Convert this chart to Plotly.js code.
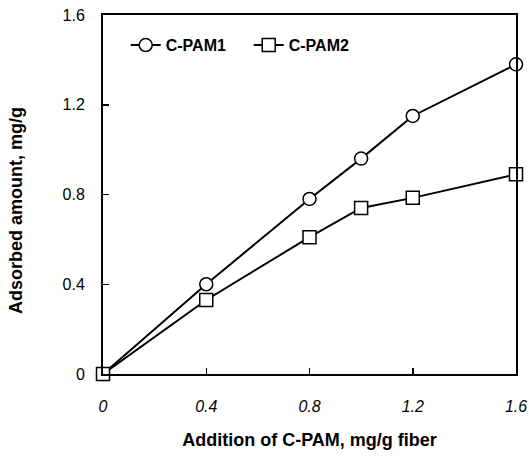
<!DOCTYPE html>
<html><head><meta charset="utf-8">
<script src="https://cdn.plot.ly/plotly-3.0.1.min.js"></script>
<style>html,body{margin:0;padding:0;background:#fff}</style>
</head><body>
<div id="chart" style="width:529px;height:458px"></div>
<script>
const xValues = [0, 0.4, 0.8, 1.0, 1.2, 1.6];
const cpam1 = [0, 0.40, 0.78, 0.96, 1.15, 1.38];
const cpam2 = [0, 0.33, 0.61, 0.74, 0.785, 0.89];
const seriesNames = ["C-PAM1", "C-PAM2"];
const xTicks = [0, 0.4, 0.8, 1.2, 1.6];
const xTickLabels = ["0", "0.4", "0.8", "1.2", "1.6"];
const yTicks = [0, 0.4, 0.8, 1.2, 1.6];
const yTickLabels = ["0", "0.4", "0.8", "1.2", "1.6"];
const xTitle = "Addition of C-PAM, mg/g fiber";
const yTitle = "Adsorbed amount, mg/g";

const font = "Liberation Sans, Arial, sans-serif";
const traces = [
  {x: xValues, y: cpam1, name: seriesNames[0], type: "scatter", mode: "lines+markers",
   line: {color: "#000", width: 2},
   marker: {symbol: "circle", size: 13, color: "#fff", line: {color: "#000", width: 1.5}},
   cliponaxis: false},
  {x: xValues, y: cpam2, name: seriesNames[1], type: "scatter", mode: "lines+markers",
   line: {color: "#000", width: 2},
   marker: {symbol: "square", size: 13, color: "#fff", line: {color: "#000", width: 1.5}},
   cliponaxis: false}
];
const layout = {
  width: 529, height: 458,
  margin: {l: 103, r: 13, t: 15, b: 84},
  paper_bgcolor: "#fff", plot_bgcolor: "#fff",
  showlegend: true,
  legend: {orientation: "h", x: 0.055, y: 0.916, xanchor: "left", yanchor: "middle",
    bgcolor: "rgba(0,0,0,0)", font: {family: font, size: 16, color: "#000", weight: "bold"},
    entrywidth: 78, entrywidthmode: "pixels"},
  xaxis: {range: [0, 1.6], tickvals: xTicks, ticktext: xTickLabels,
    ticks: "inside", ticklen: 6, tickwidth: 1.5, tickcolor: "#000",
    showline: true, linecolor: "#000", linewidth: 2, mirror: true,
    showgrid: false, zeroline: false, ticklabelstandoff: 17,
    tickfont: {family: font, size: 16, color: "#000", style: "italic"},
    title: {text: xTitle, standoff: 19,
      font: {family: font, size: 18, color: "#000", weight: "bold"}}},
  yaxis: {range: [0, 1.6], tickvals: yTicks, ticktext: yTickLabels,
    ticks: "inside", ticklen: 6, tickwidth: 1.5, tickcolor: "#000",
    showline: true, linecolor: "#000", linewidth: 2, mirror: true,
    showgrid: false, zeroline: false, ticklabelstandoff: 13,
    tickfont: {family: font, size: 16, color: "#000"}},
  annotations: [{text: yTitle, xref: "paper", yref: "paper",
    x: (16 - 103) / 413, y: 0.454, xanchor: "center", yanchor: "middle",
    textangle: -90, showarrow: false,
    font: {family: font, size: 18, color: "#000", weight: "bold"}}]
};
Plotly.newPlot("chart", traces, layout, {displayModeBar: false, staticPlot: true});
</script>
</body></html>
